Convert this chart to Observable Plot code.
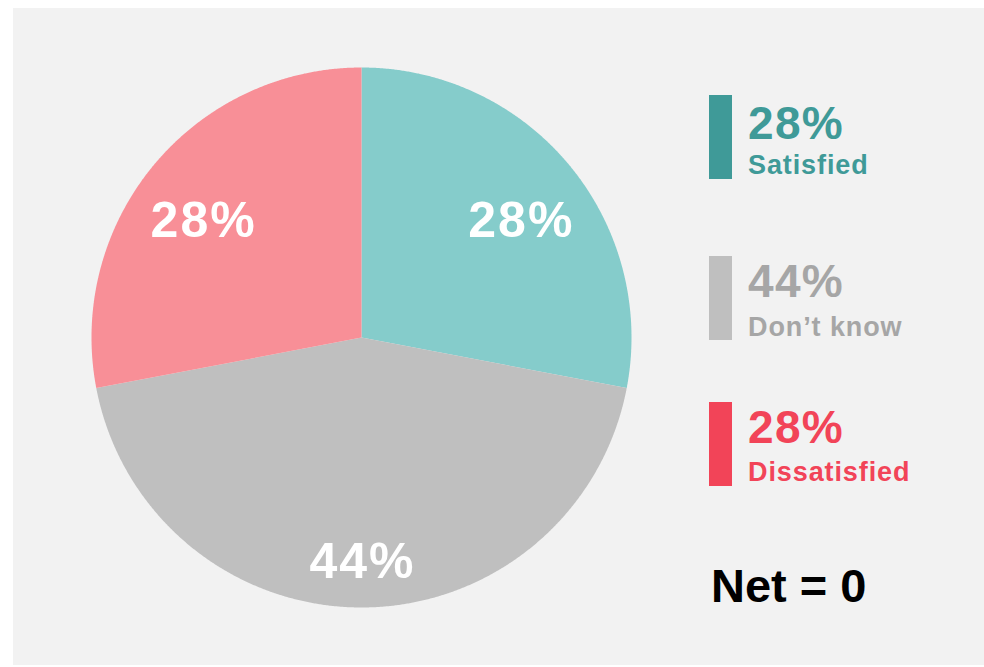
<!DOCTYPE html>
<html>
<head>
<meta charset="utf-8">
<script src="https://cdn.jsdelivr.net/npm/d3@7"></script>
<script src="https://cdn.jsdelivr.net/npm/@observablehq/plot@0.6"></script>
<style>
  html, body { margin: 0; padding: 0; background: #ffffff; }
  body { width: 984px; height: 667px; position: relative; overflow: hidden; font-family: Arial, "Liberation Sans", sans-serif; }
  #panel { position: absolute; left: 13px; top: 8px; width: 971px; height: 657px; background: #f2f2f2; }
  #chart { position: absolute; left: 0; top: 0; }
  .item { position: absolute; left: 709px; }
  .bar { position: absolute; left: 0; top: 0; width: 23px; height: 84px; }
  .pct { position: absolute; left: 39px; top: 3px; font-size: 46px; line-height: 46px; font-weight: bold; white-space: nowrap; letter-spacing: 1.3px; }
  .lab { position: absolute; left: 39px; top: 57px; font-size: 27px; line-height: 27px; font-weight: bold; white-space: nowrap; letter-spacing: 0.9px; }
  #net { position: absolute; left: 711px; top: 562px; font-size: 47px; line-height: 47px; font-weight: bold; color: #000; white-space: nowrap; }
</style>
</head>
<body>
<div id="panel"></div>
<div id="chart"></div>
<div id="legend"></div>
<div id="net"></div>
<script>
// ---- data ----
const categories = ["Satisfied", "Don\u2019t know", "Dissatisfied"];
const shares = [28, 44, 28];
const pieColors = ["#85cccb", "#bfbfbf", "#f88f97"];
const legendColors = ["#3f9a98", "#bfbfbf", "#f24458"];
const legendTextColors = ["#3f9a98", "#a6a6a6", "#f24458"];
const netLabel = "Net = 0";

// ---- geometry from data ----
const total = d3.sum(shares);
const slices = [];
let acc = 0;
categories.forEach((c, i) => {
  const start = acc / total * 2 * Math.PI;
  acc += shares[i];
  const end = acc / total * 2 * Math.PI;
  slices.push({cat: c, value: shares[i], start, end, color: pieColors[i]});
});

const pts = [];
for (const s of slices) {
  pts.push({cat: s.cat, x: 0, y: 0});
  const n = Math.max(2, Math.ceil((s.end - s.start) / (Math.PI / 720)));
  for (let k = 0; k <= n; k++) {
    const a = s.start + (s.end - s.start) * k / n;
    pts.push({cat: s.cat, x: Math.sin(a), y: Math.cos(a)});
  }
  pts.push({cat: s.cat, x: 0, y: 0});
}

// label placement (layout): polar offset per slice
const labelLayout = {"Satisfied": {r: 0.73, da: 3.3}, "Don\u2019t know": {r: 0.83, da: 0}, "Dissatisfied": {r: 0.73, da: -3.3}};
const labels = slices.map(s => {
  const L = labelLayout[s.cat];
  const a = (s.start + s.end) / 2 + L.da * Math.PI / 180;
  return {text: s.value + "%", x: L.r * Math.sin(a), y: L.r * Math.cos(a)};
});

const chart = Plot.plot({
  width: 984,
  height: 667,
  marginLeft: 91,
  marginRight: 353,
  marginTop: 67,
  marginBottom: 60,
  style: {background: "transparent", overflow: "visible"},
  x: {domain: [-1, 1], axis: null},
  y: {domain: [-1, 1], axis: null},
  color: {domain: categories, range: pieColors},
  marks: [
    Plot.line(pts, {x: "x", y: "y", z: "cat", fill: "cat", stroke: "none", curve: "linear"}),
    Plot.text(labels, {x: "x", y: "y", text: "text", fill: "white", fontSize: 50, fontWeight: "bold",
      fontFamily: "Arial, 'Liberation Sans', sans-serif", textAnchor: "middle", lineAnchor: "middle", dx: 1})
  ]
});
chart.querySelectorAll("text").forEach(t => t.style.letterSpacing = "2px");
document.getElementById("chart").append(chart);

// ---- legend ----
const tops = [95, 256, 402];
const legend = document.getElementById("legend");
categories.forEach((c, i) => {
  const item = document.createElement("div");
  item.className = "item";
  item.style.top = tops[i] + "px";
  const bar = document.createElement("div");
  bar.className = "bar";
  bar.style.background = legendColors[i];
  const pct = document.createElement("div");
  pct.className = "pct";
  pct.style.color = legendTextColors[i];
  pct.style.top = (i === 0 ? 5 : 2) + "px";
  pct.textContent = shares[i] + "%";
  const lab = document.createElement("div");
  lab.className = "lab";
  lab.style.color = legendTextColors[i];
  lab.style.top = (i === 1 ? 58 : 57) + "px";
  lab.textContent = c;
  item.append(bar, pct, lab);
  legend.append(item);
});
document.getElementById("net").textContent = netLabel;
</script>
</body>
</html>
